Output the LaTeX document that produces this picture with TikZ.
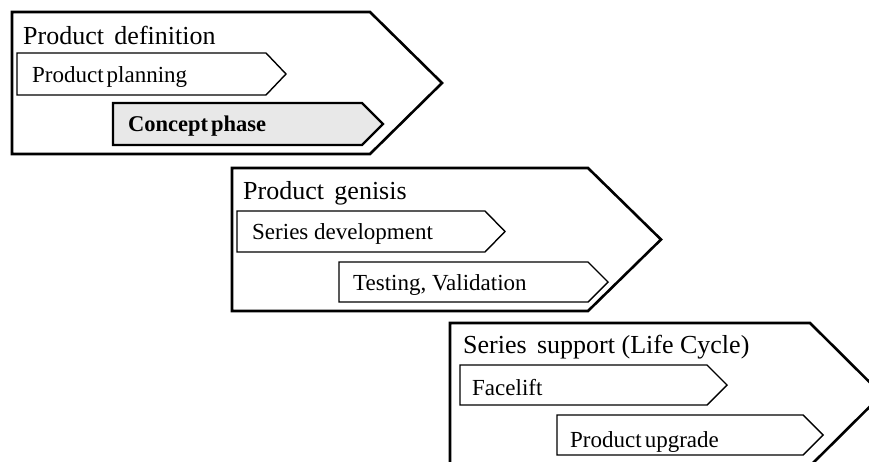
\documentclass[tikz,border=0pt]{standalone}
\usepackage{fontspec}
\setmainfont{Liberation Serif}
\begin{document}
\begin{tikzpicture}[x=1pt,y=-1pt,
  phase/.style={draw=black,line width=2.6pt,line join=miter,fill=white},
  step box/.style={draw=black,line width=1.4pt,line join=miter,fill=white},
  active box/.style={draw=black,line width=2.4pt,line join=miter,fill=black!9},
  title/.style={anchor=base west,inner sep=0pt,font=\fontsize{26}{29}\selectfont},
  label/.style={anchor=base west,inner sep=0pt,font=\fontsize{23}{26}\selectfont}]
\useasboundingbox (0,0) rectangle (869,462);
\begin{scope}
\clip (0,0) rectangle (869,462);
% phase 1: product definition
\draw[phase] (12,12) -- (370,12) -- (442,83) -- (370,154) -- (12,154) -- cycle;
\draw[step box] (17,53) -- (266,53) -- (286,74) -- (266,95) -- (17,95) -- cycle;
\draw[active box] (113,103) -- (362,103) -- (383,124) -- (362,145) -- (113,145) -- cycle;
\node[title] (t1) at (23,45) {Product\hspace{0.15em} definition};
\node[label] (s11) at (32,83) {Product\kern3pt planning};
\node[label,font=\fontsize{22.5}{26}\selectfont\bfseries] (s12) at (128,132) {Concept\kern3pt phase};
% phase 2: product genesis
\draw[phase] (232,168) -- (588,168) -- (661,239.5) -- (588,311) -- (232,311) -- cycle;
\draw[step box] (237,211) -- (485,211) -- (505,231.5) -- (485,252) -- (237,252) -- cycle;
\draw[step box] (339,262) -- (588,262) -- (608,282) -- (588,302) -- (339,302) -- cycle;
\node[title] (t2) at (243,200) {Product\hspace{0.15em} genisis};
\node[label] (s21) at (252,240) {Series development};
\node[label] (s22) at (353,290) {Testing, Validation};
% phase 3: series support
\draw[phase] (450,323) -- (810,323) -- (882,394.5) -- (810,466) -- (450,466) -- cycle;
\draw[step box] (460,365) -- (707,365) -- (727,385) -- (707,405) -- (460,405) -- cycle;
\draw[step box] (557,415) -- (803,415) -- (823,435) -- (803,455) -- (557,455) -- cycle;
\node[title] (t3) at (463,353) {Series\hspace{0.15em} support (Life Cycle)};
\node[label] (s31) at (472,395) {Facelift};
\node[label] (s32) at (570,447) {Product\kern3pt upgrade};
\end{scope}
\end{tikzpicture}
\end{document}
